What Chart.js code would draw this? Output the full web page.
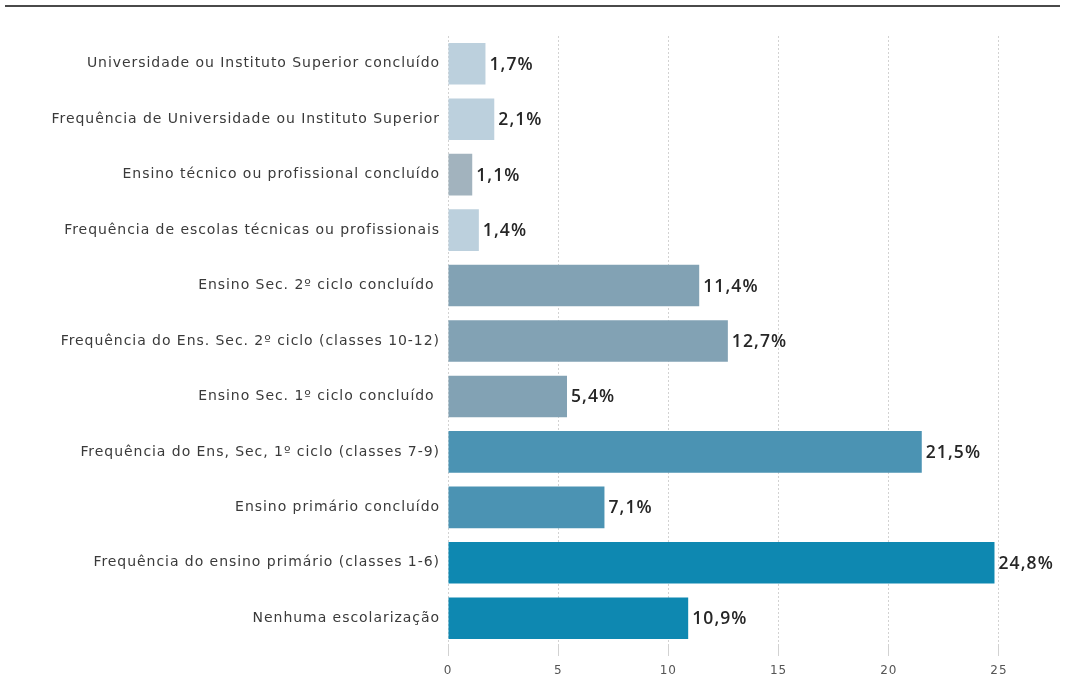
<!DOCTYPE html>
<html lang="pt">
<head>
<meta charset="utf-8">
<title>Nível de escolaridade</title>
<script src="https://cdn.jsdelivr.net/npm/chart.js@4"></script>
<style>
  html, body { margin: 0; padding: 0; background: #ffffff; }
  #wrap { width: 1065px; height: 683px; position: relative; }
</style>
</head>
<body>
<div id="wrap"><canvas id="chart" width="1065" height="683"></canvas></div>
<script>
// Education level categories (top to bottom)
const categories = [
  "Universidade ou Instituto Superior concluído",
  "Frequência de Universidade ou Instituto Superior",
  "Ensino técnico ou profissional concluído",
  "Frequência de escolas técnicas ou profissionais",
  "Ensino Sec. 2º ciclo concluído ",
  "Frequência do Ens. Sec. 2º ciclo (classes 10-12)",
  "Ensino Sec. 1º ciclo concluído ",
  "Frequência do Ens, Sec, 1º ciclo (classes 7-9)",
  "Ensino primário concluído",
  "Frequência do ensino primário (classes 1-6)",
  "Nenhuma escolarização"
];

// Share of population, in percent
const percentages = [1.7, 2.1, 1.1, 1.4, 11.4, 12.7, 5.4, 21.5, 7.1, 24.8, 10.9];

// Horizontal axis ticks
const xTicks = [0, 5, 10, 15, 20, 25];

// Bar fill per category
const barColors = [
  "#bcd0dd", "#bcd0dd", "#a2b3be", "#bcd0dd",
  "#82a2b4", "#82a2b4", "#82a2b4",
  "#4b93b3", "#4b93b3",
  "#0e88b1", "#0e88b1"
];

const fmt = v => v.toFixed(1).replace(".", ",") + "%";

// Dark rule across the top of the figure; wider tracking for axis text
const topRule = {
  id: "topRule",
  beforeDraw(chart) {
    const ctx = chart.ctx;
    ctx.save();
    ctx.strokeStyle = "#4a4a4a";
    ctx.lineWidth = 2;
    ctx.beginPath();
    ctx.moveTo(5, 6);
    ctx.lineTo(1060, 6);
    ctx.stroke();
    ctx.restore();
    ctx.letterSpacing = "0.95px";
  },
  beforeDatasetsDraw(chart) {
    chart.ctx.letterSpacing = "0px";
  }
};

// Value labels at the end of each bar
const valueLabels = {
  id: "valueLabels",
  afterDatasetsDraw(chart) {
    const ctx = chart.ctx;
    const meta = chart.getDatasetMeta(0);
    ctx.save();
    ctx.font = "600 17.5px 'Open Sans', sans-serif";
    ctx.letterSpacing = "1.1px";
    ctx.fillStyle = "#262626";
    ctx.textAlign = "left";
    ctx.textBaseline = "middle";
    meta.data.forEach((bar, i) => {
      ctx.fillText(fmt(percentages[i]), bar.x + 4, bar.y + 1);
    });
    ctx.letterSpacing = "0px";
    ctx.restore();
  }
};

new Chart(document.getElementById("chart"), {
  type: "bar",
  data: {
    labels: categories,
    datasets: [{
      data: percentages,
      backgroundColor: barColors,
      borderWidth: 0,
      barPercentage: 0.75,
      categoryPercentage: 1
    }]
  },
  options: {
    indexAxis: "y",
    responsive: false,
    animation: false,
    layout: { padding: { top: 36, right: 0, bottom: 0, left: 0 } },
    plugins: {
      legend: { display: false },
      tooltip: { enabled: false }
    },
    scales: {
      x: {
        min: 0,
        max: 28,
        afterBuildTicks: axis => {
          axis.ticks = xTicks.map(v => ({ value: v }));
        },
        afterFit: scale => { scale.height = 37; },
        border: { display: false, dash: [2, 2] },
        grid: {
          color: "#d2d2d2",
          lineWidth: 1,
          tickLength: 10,
          drawTicks: true
        },
        ticks: {
          color: "#555555",
          padding: 8,
          font: { family: "'DejaVu Sans', sans-serif", size: 12 }
        }
      },
      y: {
        afterFit: scale => { scale.width = 448; },
        border: { display: false },
        grid: { display: false },
        ticks: {
          color: "#3a3a3a",
          padding: 0,
          font: { family: "'DejaVu Sans', sans-serif", size: 14 }
        }
      }
    }
  },
  plugins: [topRule, valueLabels]
});
</script>
</body>
</html>
